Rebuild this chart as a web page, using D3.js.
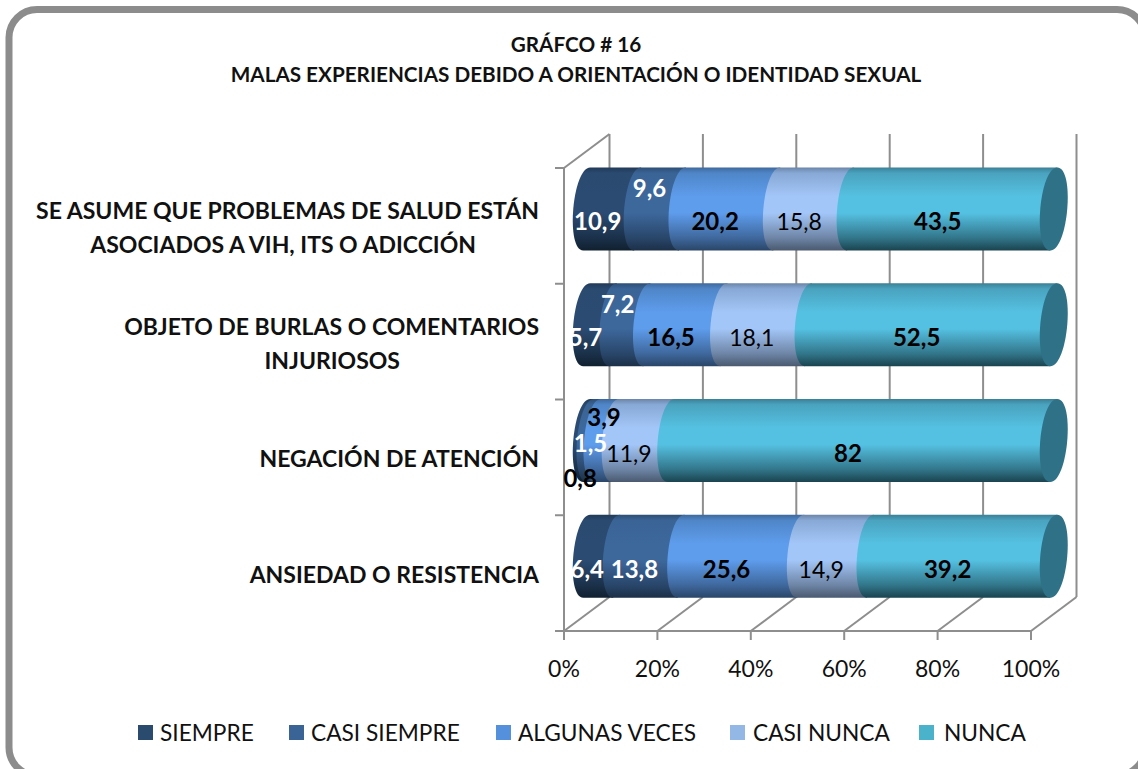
<!DOCTYPE html>
<html>
<head>
<meta charset="utf-8">
<script src="https://cdnjs.cloudflare.com/ajax/libs/d3/7.8.5/d3.min.js"></script>
<style>
html, body { margin: 0; padding: 0; background: #fff; overflow: hidden; }
text { font-family: Lato, "Open Sans", sans-serif; }
</style>
</head>
<body>
<div id="container"></div>
<script>
var categories = ["SE ASUME QUE PROBLEMAS DE SALUD ESTÁN|ASOCIADOS A VIH, ITS O ADICCIÓN",
  "OBJETO DE BURLAS O COMENTARIOS|INJURIOSOS",
  "NEGACIÓN DE ATENCIÓN",
  "ANSIEDAD O RESISTENCIA"];
var seriesNames = ["SIEMPRE", "CASI SIEMPRE", "ALGUNAS VECES", "CASI NUNCA", "NUNCA"];
var siempre = [10.9, 5.7, 0.8, 6.4];
var casiSiempre = [9.6, 7.2, 1.5, 13.8];
var algunasVeces = [20.2, 16.5, 3.9, 25.6];
var casiNunca = [15.8, 18.1, 11.9, 14.9];
var nunca = [43.5, 52.5, 82, 39.2];
var tickValues = [0, 0.2, 0.4, 0.6, 0.8, 1];

// top, light band, dark bottom of each cylinder colour
var shades = [
  ["#2a4a70", "#2b4b72", "#10202f"],
  ["#3a6496", "#3d689c", "#1c3048"],
  ["#4f86c8", "#5e9cec", "#2a4668"],
  ["#88a9d6", "#a3c6f8", "#4a5a70"],
  ["#4aa3bf", "#55c1e2", "#1a4450"]
];
var legendColors = ["#2a4a6e", "#3a6496", "#5590dc", "#94b8e6", "#4bb2cc"];
var labelColors = ["#fff", "#fff", "#000", "#000", "#000"];
var labelWeights = ["bold", "bold", "bold", "normal", "bold"];

var width = 1138, height = 769;
var svg = d3.select("#container").append("svg")
  .attr("width", width).attr("height", height)
  .style("display", "block");

// frame
svg.append("rect")
  .attr("x", 9).attr("y", 9.5)
  .attr("width", 1136).attr("height", 766)
  .attr("rx", 28)
  .attr("fill", "#fff")
  .attr("stroke", "#8c8c8c")
  .attr("stroke-width", 7);

svg.append("text").attr("x", 576).attr("y", 52)
  .attr("text-anchor", "middle").attr("font-weight", "bold").attr("font-size", 20.7)
  .attr("fill", "#111").text("GRÁFCO # 16");
svg.append("text").attr("x", 576).attr("y", 82)
  .attr("text-anchor", "middle").attr("font-weight", "bold").attr("font-size", 20.7)
  .attr("fill", "#111").text("MALAS EXPERIENCIAS DEBIDO A ORIENTACIÓN O IDENTIDAD SEXUAL");

var depthX = 45.5, depthY = -34;
var x = d3.scaleLinear().domain([0, 1]).range([564, 1031]);
var y = d3.scaleBand().domain(categories).range([168, 631]);
var rows = categories.map(function(c, i) {
  return { cat: c, s0: siempre[i], s1: casiSiempre[i], s2: algunasVeces[i], s3: casiNunca[i], s4: nunca[i] };
});
var keys = ["s0", "s1", "s2", "s3", "s4"];
var stacked = d3.stack().keys(keys).offset(d3.stackOffsetExpand)(rows);

// 3d walls and gridlines
var grid = svg.append("g").attr("stroke", "#8e8e8e").attr("stroke-width", 2).attr("fill", "none");
tickValues.forEach(function(t) {
  grid.append("line").attr("x1", x(t)).attr("y1", 631).attr("x2", x(t) + depthX).attr("y2", 631 + depthY);
  grid.append("line").attr("x1", x(t) + depthX).attr("y1", 631 + depthY).attr("x2", x(t) + depthX).attr("y2", 168 + depthY);
  grid.append("line").attr("x1", x(t)).attr("y1", 631).attr("x2", x(t)).attr("y2", 640);
});
grid.append("line").attr("x1", x(0)).attr("y1", 631).attr("x2", x(1)).attr("y2", 631);
grid.append("line").attr("x1", x(0)).attr("y1", 631).attr("x2", x(0)).attr("y2", 168);
grid.append("line").attr("x1", x(0)).attr("y1", 168).attr("x2", x(0) + depthX).attr("y2", 168 + depthY);
[168, 283.75, 399.5, 515.25, 631].forEach(function(v) {
  grid.append("line").attr("x1", 555).attr("y1", v).attr("x2", x(0)).attr("y2", v);
});

var defs = svg.append("defs");
shades.forEach(function(s, i) {
  var g = defs.append("linearGradient").attr("id", "cyl" + i)
    .attr("x1", 0).attr("y1", 0).attr("x2", 0).attr("y2", 1);
  g.append("stop").attr("offset", "0%").attr("stop-color", d3.color(s[0]).darker(0.7));
  g.append("stop").attr("offset", "7%").attr("stop-color", s[0]);
  g.append("stop").attr("offset", "35%").attr("stop-color", s[1]);
  g.append("stop").attr("offset", "55%").attr("stop-color", s[1]);
  g.append("stop").attr("offset", "85%").attr("stop-color", d3.interpolateRgb(s[1], s[2])(0.6));
  g.append("stop").attr("offset", "100%").attr("stop-color", s[2]);
});

var barH = 83, rx = 13.5, tilt = 3.5;
var offX = depthX / 2, offY = depthY / 2;

function segPath(a, b, cy) {
  var top = cy - barH / 2, bot = cy + barH / 2;
  var c = rx * 4 / 3;
  return "M" + (a + tilt) + "," + top +
    "C" + (a + tilt - c) + "," + top + " " + (a - tilt - c) + "," + bot + " " + (a - tilt) + "," + bot +
    "L" + (b - tilt) + "," + bot +
    "L" + (b + tilt) + "," + top + "Z";
}

var bars = svg.append("g");
stacked.forEach(function(ser, k) {
  bars.append("g").selectAll("path").data(ser).enter().append("path")
    .attr("fill", "url(#cyl" + k + ")")
    .attr("d", function(d) {
      var cy = y(d.data.cat) + y.bandwidth() / 2 + offY;
      return segPath(x(d[0]) + offX, x(d[1]) + offX, cy);
    });
});
// end caps
bars.append("g").selectAll("path.cap").data(categories).enter().append("path")
  .attr("class", "cap")
  .attr("fill", "#2f7287")
  .attr("d", function(c) {
    var cy = y(c) + y.bandwidth() / 2 + offY;
    var a = x(1) + offX, t = cy - barH / 2, b = cy + barH / 2, k = rx * 4 / 3;
    return "M" + (a + tilt) + "," + t +
      "C" + (a + tilt - k) + "," + t + " " + (a - tilt - k) + "," + b + " " + (a - tilt) + "," + b +
      "C" + (a - tilt + k) + "," + b + " " + (a + tilt + k) + "," + t + " " + (a + tilt) + "," + t + "Z";
  });

// labels moved by hand in the original, row-series: [dx, dy]
var moved = { "0-1": [4, -33], "1-1": [2, -33], "2-0": [6, 25], "2-1": [11, -10], "2-2": [12, -36] };
var labels = svg.append("g").attr("text-anchor", "middle");
stacked.forEach(function(ser, k) {
  ser.forEach(function(d, i) {
    var m = moved[i + "-" + k] || [0, 0];
    var val = d.data[keys[k]];
    labels.append("text")
      .attr("x", x((d[0] + d[1]) / 2) + offX - 14.5 + m[0])
      .attr("y", y(d.data.cat) + y.bandwidth() / 2 + offY + 14 + m[1] + 7.5)
      .attr("fill", (i == 2 && k == 0) ? "#000" : labelColors[k])
      .attr("font-weight", labelWeights[k])
      .attr("font-size", labelWeights[k] == "bold" ? 24 : 23)
      .text(String(val).replace(".", ","));
  });
});

// category labels, second lines do not line up with the first in the original
var catG = svg.append("g").attr("font-size", 23).attr("font-weight", "bold")
  .attr("text-anchor", "end").attr("fill", "#111");
var secondLineEnd = [476, 400];
categories.forEach(function(c, i) {
  var parts = c.split("|");
  var cy = y(c) + y.bandwidth() / 2 + offY + 27;
  parts.forEach(function(p, j) {
    var ty = cy + (j - (parts.length - 1) / 2) * 34;
    catG.append("text").attr("x", j == 1 ? secondLineEnd[i] : 539)
      .attr("y", ty).text(p);
  });
});

// value axis labels
svg.append("g").selectAll("text").data(tickValues).enter().append("text")
  .attr("x", function(d) { return x(d); })
  .attr("y", 677)
  .attr("text-anchor", "middle").attr("font-size", 23).attr("fill", "#111")
  .text(d3.format(".0%"));

// legend
var legendX = [138, 289, 496, 730, 919];
var legendTextX = [160, 311, 518, 753, 944];
var legend = svg.append("g").selectAll("g").data(seriesNames).enter().append("g");
legend.append("rect")
  .attr("x", function(d, i) { return legendX[i]; })
  .attr("y", 725).attr("width", 15).attr("height", 15)
  .attr("fill", function(d, i) { return legendColors[i]; });
legend.append("text")
  .attr("x", function(d, i) { return legendTextX[i]; })
  .attr("y", 741)
  .attr("font-size", 22.7).attr("fill", "#111")
  .text(function(d) { return d; });
</script>
</body>
</html>
